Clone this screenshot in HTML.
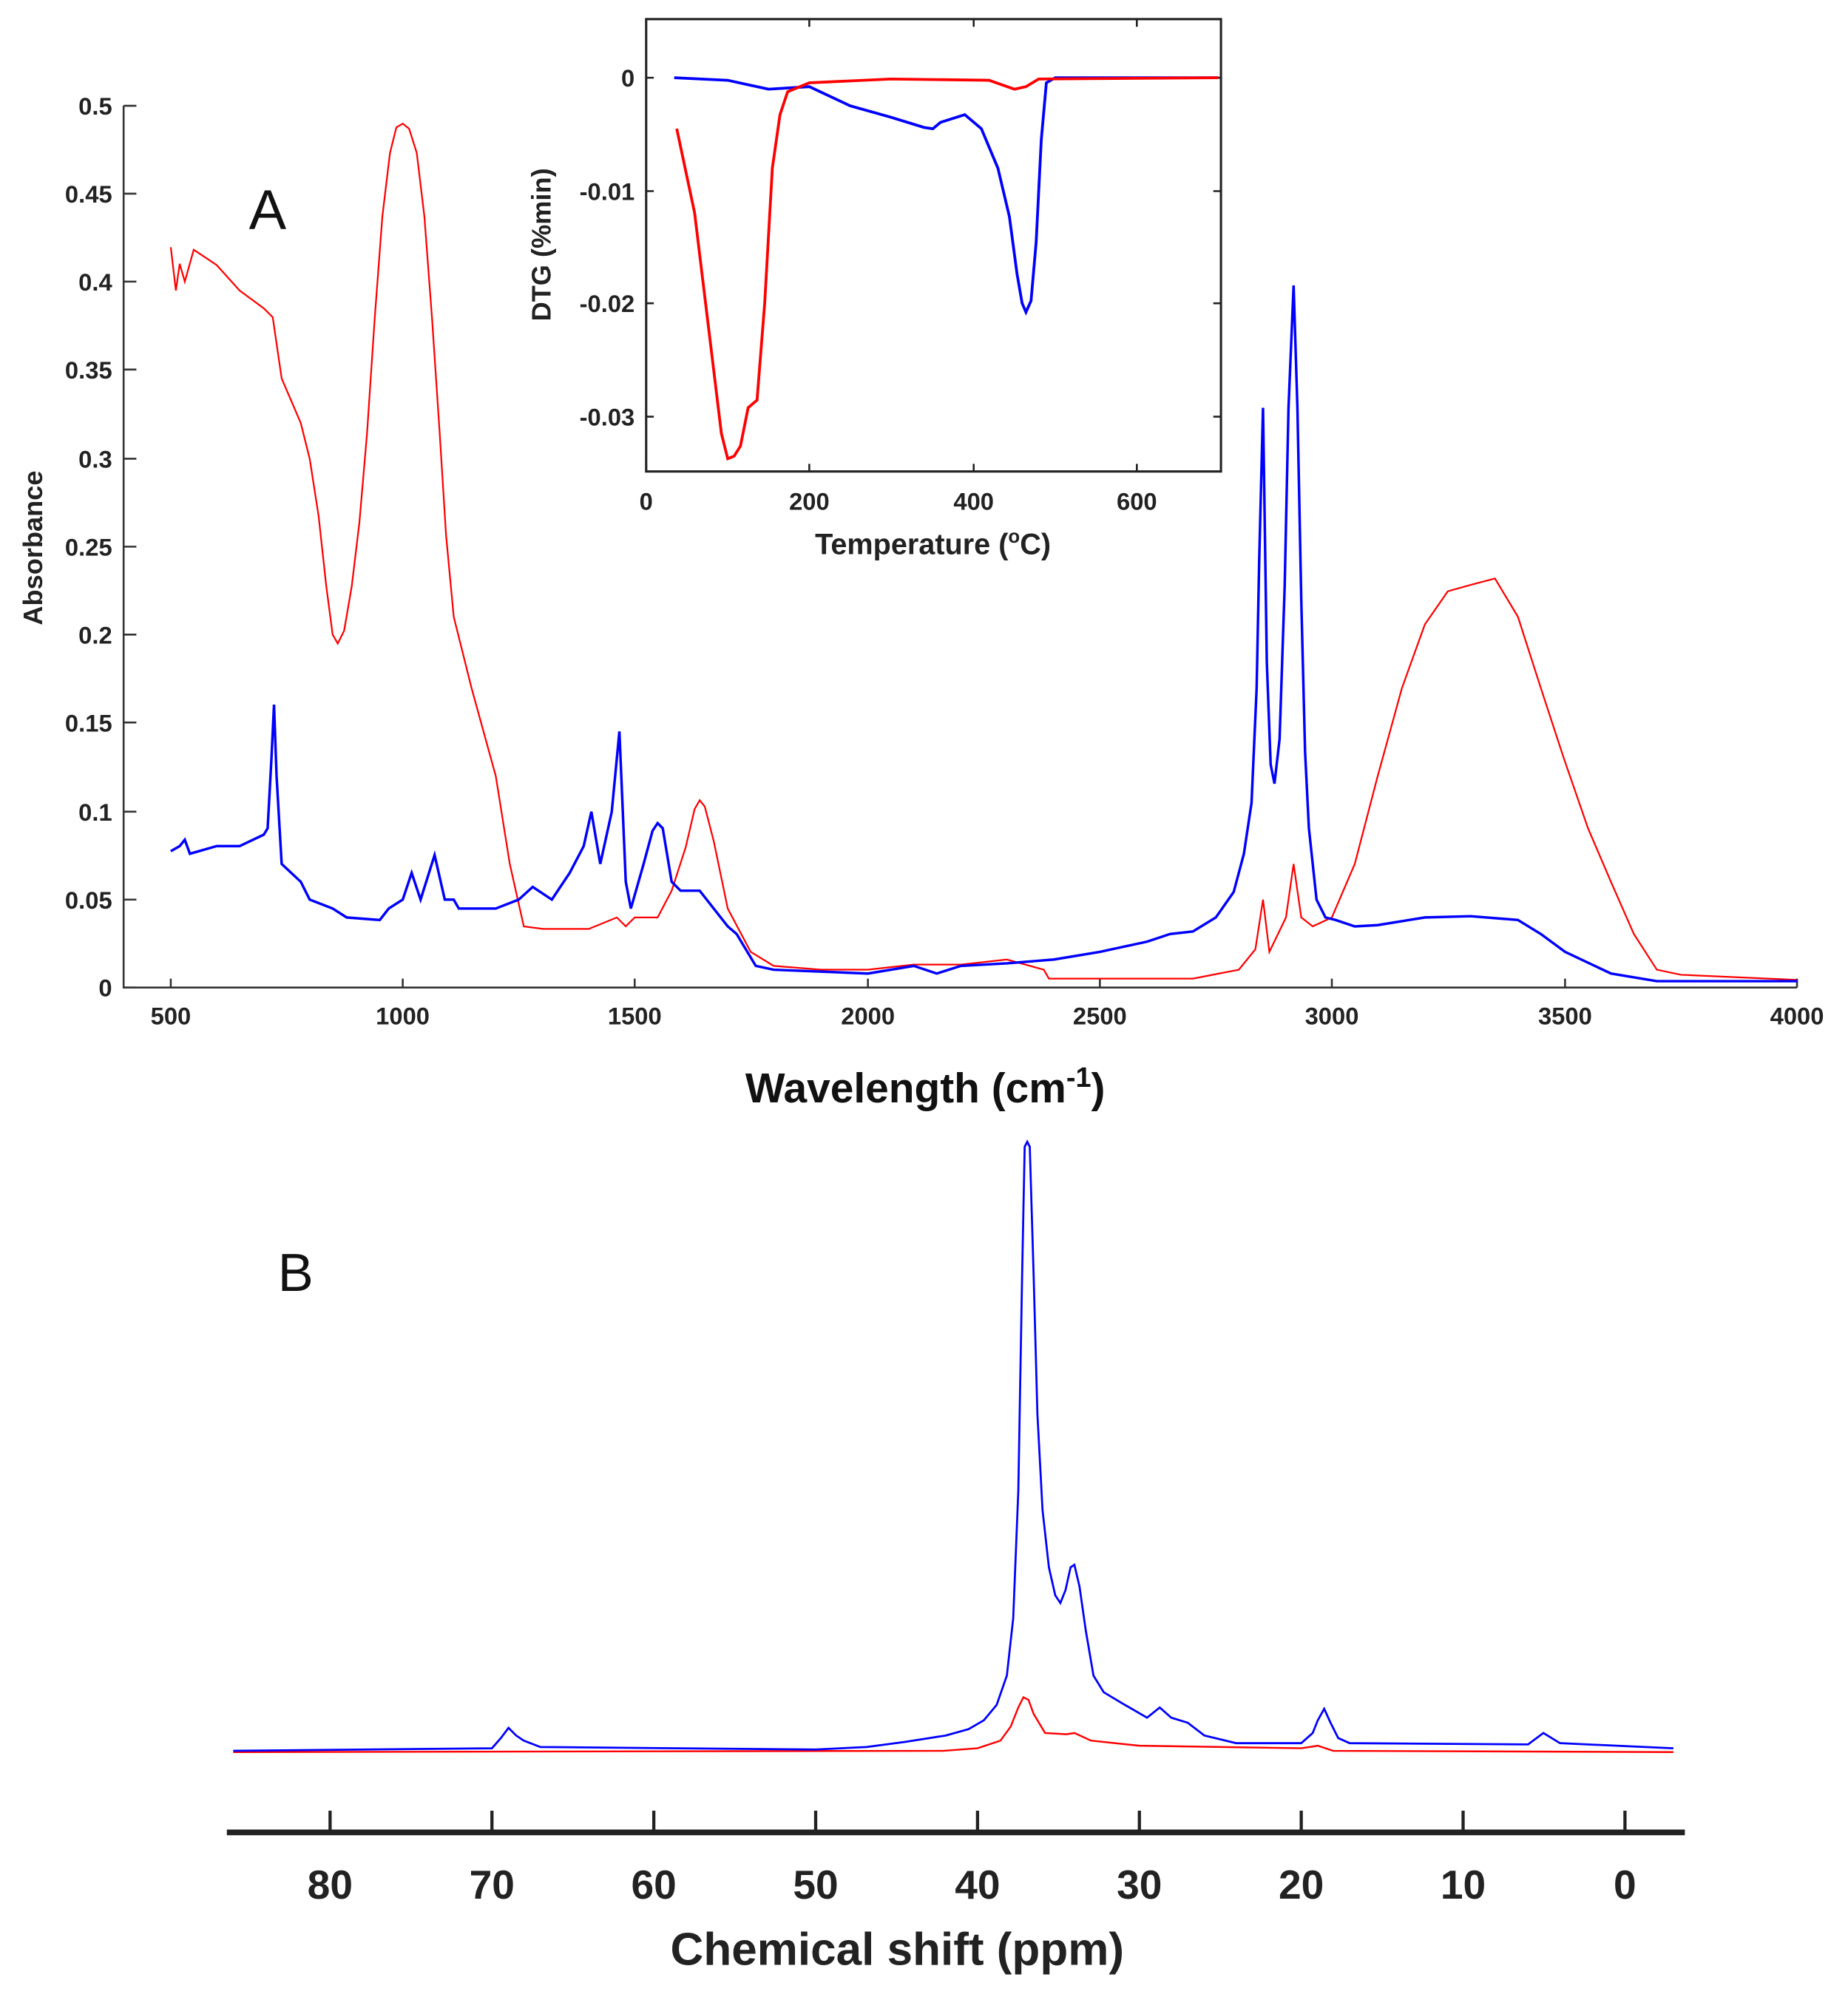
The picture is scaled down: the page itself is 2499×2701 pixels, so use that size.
<!DOCTYPE html>
<html><head><meta charset="utf-8"><style>html,body{margin:0;padding:0;background:#fff}svg{display:block}</style></head><body>
<svg width="2499" height="2701" viewBox="0 0 1450 1567.2" preserveAspectRatio="none" xmlns="http://www.w3.org/2000/svg" font-family="Liberation Sans, sans-serif">
<rect width="1450" height="1568" fill="#fff"/>
<g stroke="#333" stroke-width="1.5" fill="none">
<path d="M97,83 V775 H1410"/>
<path d="M97,775h10M97,706h10M97,637h10M97,567h10M97,498h10M97,429h10M97,360h10M97,290h10M97,221h10M97,152h10M97,83h10"/>
<path d="M134,775v-7M316,775v-7M498,775v-7M681,775v-7M863,775v-7M1045,775v-7M1228,775v-7M1410,775v-7"/>
</g>
<g font-size="19" font-weight="bold" fill="#222" text-anchor="end">
<text x="88" y="782">0</text><text x="88" y="713">0.05</text><text x="88" y="644">0.1</text><text x="88" y="574">0.15</text><text x="88" y="505">0.2</text><text x="88" y="436">0.25</text><text x="88" y="367">0.3</text><text x="88" y="297">0.35</text><text x="88" y="228">0.4</text><text x="88" y="159">0.45</text><text x="88" y="90">0.5</text>
</g>
<g font-size="19" font-weight="bold" fill="#222" text-anchor="middle">
<text x="134" y="804">500</text><text x="316" y="804">1000</text><text x="498" y="804">1500</text><text x="681" y="804">2000</text><text x="863" y="804">2500</text><text x="1045" y="804">3000</text><text x="1228" y="804">3500</text><text x="1410" y="804">4000</text>
</g>
<text transform="translate(33,430) rotate(-90)" font-size="21" font-weight="bold" text-anchor="middle" fill="#222">Absorbance</text>
<text x="726" y="865" font-size="33" font-weight="bold" text-anchor="middle" fill="#111">Wavelength (cm<tspan font-size="22" dy="-12">-1</tspan><tspan dy="12">)</tspan></text>
<text x="210" y="180" font-size="44" fill="#111" text-anchor="middle">A</text>
<path fill="none" stroke="#f00" stroke-width="1.3" d="M134,194 L138,228 L141,207 L145,221 L152,196 L170,208 L188,228 L207,242 L214,249 L221,297 L236,332 L243,360 L250,405 L256,460 L261,498 L265,505 L270,495 L276,460 L282,410 L288,340 L294,250 L300,170 L306,120 L311,100 L316,97 L321,101 L327,120 L333,170 L339,250 L345,340 L350,420 L356,484 L370,540 L389,609 L400,678 L411,727 L426,729 L462,729 L484,720 L491,727 L498,720 L516,720 L527,699 L538,665 L545,635 L549,628 L553,633 L560,660 L571,713 L589,747 L607,758 L644,761 L681,761 L717,757 L754,757 L790,753 L819,761 L823,768 L863,768 L936,768 L972,761 L985,745 L991,706 L996,747 L1009,720 L1015,678 L1021,720 L1030,727 L1045,720 L1063,678 L1081,609 L1100,540 L1118,490 L1136,464 L1154,459 L1173,454 L1191,484 L1209,540 L1227,595 L1246,650 L1264,692 L1282,733 L1300,761 L1319,765 L1410,769"/>
<path fill="none" stroke="#00f" stroke-width="2" d="M134,668 L141,664 L145,659 L149,670 L170,664 L188,664 L207,655 L210,650 L213,595 L215,553 L217,609 L221,678 L236,692 L243,706 L261,713 L272,720 L298,722 L305,713 L316,706 L323,685 L330,706 L341,671 L349,706 L356,706 L360,713 L389,713 L407,706 L418,696 L433,706 L447,685 L458,664 L464,637 L471,678 L480,637 L486,574 L491,692 L495,713 L505,678 L512,652 L516,646 L520,650 L527,692 L534,699 L549,699 L571,727 L578,733 L593,758 L607,761 L681,764 L717,758 L735,764 L754,758 L790,756 L827,753 L863,747 L900,739 L918,733 L936,731 L954,720 L968,700 L976,670 L982,630 L986,540 L988,440 L991,320 L994,520 L997,600 L1000,615 L1004,580 L1008,460 L1011,320 L1015,224 L1018,320 L1021,470 L1024,590 L1027,650 L1033,706 L1040,720 L1048,722 L1063,727 L1081,726 L1118,720 L1154,719 L1191,722 L1209,733 L1228,747 L1264,764 L1300,770 L1410,770"/>
<rect x="507" y="15" width="451" height="355" fill="#fff" stroke="#222" stroke-width="1.8"/>
<g stroke="#222" stroke-width="1.5">
<path d="M507,61h6M507,150h6M507,238h6M507,327h6M958,61h-6M958,150h-6M958,238h-6M958,327h-6"/>
<path d="M507,370v-6M635,370v-6M764,370v-6M892,370v-6M635,15v6M764,15v6M892,15v6"/>
</g>
<g font-size="19" font-weight="bold" fill="#222" text-anchor="end">
<text x="498" y="68">0</text><text x="498" y="157">-0.01</text><text x="498" y="245">-0.02</text><text x="498" y="334">-0.03</text>
</g>
<g font-size="19" font-weight="bold" fill="#222" text-anchor="middle">
<text x="507" y="400">0</text><text x="635" y="400">200</text><text x="764" y="400">400</text><text x="892" y="400">600</text>
</g>
<text x="732" y="435" font-size="23" font-weight="bold" text-anchor="middle" fill="#222">Temperature (<tspan font-size="15" dy="-9">o</tspan><tspan dy="9">C)</tspan></text>
<text transform="translate(432,192) rotate(-90)" font-size="21" font-weight="bold" text-anchor="middle" fill="#222">DTG (%min)</text>
<path fill="none" stroke="#00f" stroke-width="2.2" d="M529,61 L571,63 L603,70 L635,68 L667,83 L699,92 L725,100 L732,101 L738,96 L757,90 L770,101 L783,132 L792,170 L798,215 L802,238 L805,245 L809,236 L813,190 L817,110 L821,65 L828,61 L956,61"/>
<path fill="none" stroke="#f00" stroke-width="2.2" d="M531,101 L545,167 L558,274 L566,340 L571,360 L576,358 L581,350 L587,320 L594,314 L600,238 L606,132 L612,90 L618,72 L635,65 L699,62 L776,63 L796,70 L805,68 L815,62 L956,61"/>
<text x="232" y="1013" font-size="42" fill="#111" text-anchor="middle">B</text>
<path fill="none" stroke="#f00" stroke-width="1.4" d="M183,1375 L740,1374 L767,1372 L785,1366 L793,1355 L799,1340 L803,1332 L807,1334 L811,1345 L820,1360 L837,1361 L843,1360 L856,1366 L894,1370 L1021,1372 L1034,1370 L1046,1374 L1313,1375"/>
<path fill="none" stroke="#00f" stroke-width="1.6" d="M183,1374 L386,1372 L393,1364 L399,1356 L405,1362 L411,1366 L424,1371 L640,1373 L680,1371 L710,1367 L742,1362 L760,1357 L772,1350 L782,1338 L790,1315 L795,1270 L799,1170 L802,1000 L804,900 L806,896 L808,900 L811,1000 L814,1110 L818,1185 L823,1230 L828,1252 L832,1258 L836,1248 L840,1230 L843,1228 L847,1245 L852,1280 L858,1315 L866,1328 L881,1337 L900,1348 L910,1340 L919,1348 L932,1352 L945,1362 L970,1368 L1021,1368 L1030,1360 L1034,1350 L1039,1341 L1044,1352 L1050,1364 L1059,1368 L1199,1369 L1211,1360 L1224,1368 L1313,1372"/>
<g stroke="#222">
<path d="M178,1438 H1322" stroke-width="4.5"/>
<path d="M259,1438v-17M386,1438v-17M513,1438v-17M640,1438v-17M767,1438v-17M894,1438v-17M1021,1438v-17M1148,1438v-17M1275,1438v-17" stroke-width="2.5"/>
</g>
<g font-size="32" font-weight="bold" fill="#222" text-anchor="middle">
<text x="259" y="1490">80</text><text x="386" y="1490">70</text><text x="513" y="1490">60</text><text x="640" y="1490">50</text><text x="767" y="1490">40</text><text x="894" y="1490">30</text><text x="1021" y="1490">20</text><text x="1148" y="1490">10</text><text x="1275" y="1490">0</text>
</g>
<text x="704" y="1542" font-size="36" font-weight="bold" text-anchor="middle" fill="#222">Chemical shift (ppm)</text>
</svg>
</body></html>
